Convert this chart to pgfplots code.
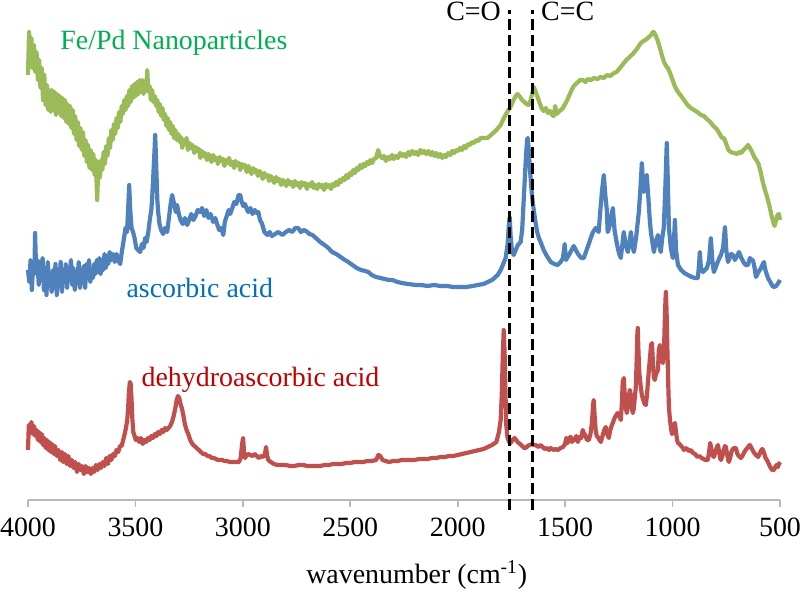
\documentclass[border=0pt]{standalone}
\usepackage{fontspec}
\setmainfont{Liberation Serif}
\usepackage{pgfplots}
\pgfplotsset{compat=1.18}
\definecolor{lgreen}{HTML}{9BBB59}
\definecolor{lblue}{HTML}{4F81BD}
\definecolor{lred}{HTML}{C0504D}
\definecolor{tgreen}{HTML}{00B050}
\definecolor{tblue}{HTML}{0070C0}
\definecolor{tred}{HTML}{C00000}
\newcommand{\fs}{\fontsize{14}{16}\selectfont}
\begin{document}
\begin{tikzpicture}
\begin{axis}[
  at={(0,0)}, anchor=south west,
  scale only axis, width=376bp, height=250bp,
  xmin=500, xmax=4000, ymin=0, ymax=500,
  x dir=reverse,
  axis x line*=bottom, axis y line=none,
  clip=false,
  x axis line style={draw=gray!55, line width=1bp},
  xtick={500,1000,...,4000},
  xtick align=outside,
  major tick length=3.5bp,
  x tick style={draw=gray!55, line width=0.8bp},
  /pgf/number format/1000 sep={},
  /pgf/number format/assume math mode=true,
  xticklabel style={font=\fs, anchor=base, yshift=-14.5bp},
  xlabel={wavenumber (cm\textsuperscript{-1})},
  xlabel style={font=\fs, at={(axis description cs:0.517,-0.168)}, anchor=base},
]
\addplot[lgreen, line width=2.1bp, line join=round] coordinates {
(4000,425)(3995,468)(3990,440)(3984,462)(3978,432)(3972,455)(3966,428)(3960,448)(3954,420)(3948,440)(3942,412)(3936,432)(3930,400)(3924,425)(3918,395)(3912,415)(3906,390)(3900,410)(3894,388)(3888,410)(3882,390)(3876,408)(3870,385)(3864,406)(3858,388)(3852,404)(3846,384)(3840,402)(3834,382)(3828,400)(3822,378)(3816,396)(3810,376)(3804,394)(3798,372)(3792,390)(3786,366)(3780,384)(3774,360)(3768,378)(3762,354)(3756,372)(3750,350)(3744,368)(3738,344)(3732,360)(3726,338)(3720,355)(3714,332)(3708,350)(3702,330)(3696,346)(3690,325)(3684,340)(3678,300)(3672,338)(3666,322)(3660,340)(3654,330)(3648,348)(3642,336)(3636,354)(3630,344)(3624,362)(3618,352)(3612,370)(3606,360)(3600,376)(3594,366)(3588,382)(3582,372)(3576,388)(3570,378)(3564,394)(3558,386)(3552,400)(3546,390)(3540,404)(3534,394)(3528,410)(3522,398)(3516,414)(3510,402)(3504,416)(3498,404)(3492,418)(3486,406)(3480,420)(3474,408)(3468,420)(3462,406)(3456,418)(3450,410)(3445,430)(3440,408)(3434,414)(3428,400)(3422,410)(3416,398)(3410,404)(3404,394)(3398,400)(3392,388)(3386,396)(3380,384)(3374,392)(3368,380)(3362,386)(3356,374)(3350,382)(3344,370)(3338,378)(3332,366)(3326,374)(3320,362)(3314,370)(3308,360)(3300,366)(3294,358)(3288,363)(3282,352)(3276,360)(3268,356)(3262,362)(3256,350)(3248,357)(3240,352)(3234,355)(3226,347)(3218,353)(3212,349)(3204,351)(3198,342)(3190,349)(3182,344)(3176,347)(3168,340)(3160,346)(3152,343)(3146,338)(3138,345)(3130,340)(3122,342)(3116,336)(3108,343)(3100,339)(3092,341)(3086,334)(3078,340)(3070,337)(3064,342)(3056,335)(3048,338)(3040,332)(3034,339)(3026,335)(3018,337)(3012,330)(3004,336)(2996,333)(2990,335)(2982,328)(2974,334)(2966,330)(2960,326)(2952,332)(2944,328)(2938,330)(2930,324)(2922,329)(2914,326)(2908,321)(2900,327)(2892,323)(2884,325)(2878,319)(2870,324)(2862,321)(2854,317)(2846,323)(2838,319)(2830,321)(2822,315)(2814,320)(2806,318)(2798,314)(2790,320)(2782,316)(2774,318)(2766,313)(2758,319)(2750,315)(2742,317)(2734,312)(2726,318)(2718,315)(2710,317)(2702,311)(2694,316)(2686,314)(2678,318)(2670,312)(2662,315)(2654,311)(2646,316)(2638,313)(2630,315)(2622,310)(2614,316)(2606,313)(2598,315)(2590,311)(2582,316)(2574,314)(2566,318)(2558,315)(2550,320)(2542,318)(2534,322)(2526,320)(2518,325)(2510,322)(2502,327)(2494,325)(2486,330)(2478,327)(2470,332)(2462,330)(2454,335)(2446,332)(2438,336)(2430,334)(2422,338)(2414,336)(2406,340)(2398,337)(2390,341)(2380,342)(2370,350)(2362,344)(2352,342)(2344,344)(2334,339)(2326,343)(2316,341)(2306,345)(2298,341)(2288,344)(2278,342)(2268,347)(2258,344)(2250,346)(2240,343)(2230,348)(2222,345)(2212,349)(2202,346)(2194,348)(2184,345)(2174,350)(2164,347)(2156,349)(2146,346)(2136,349)(2126,345)(2118,348)(2108,344)(2100,347)(2090,343)(2082,346)(2072,342)(2062,345)(2054,343)(2044,347)(2034,345)(2026,349)(2016,347)(2008,350)(1998,349)(1990,352)(1980,350)(1970,354)(1962,352)(1952,356)(1942,355)(1934,358)(1924,357)(1914,360)(1904,359)(1894,362)(1880,362)(1861,362)(1840,366)(1820,370)(1800,375)(1785,382)(1770,388)(1754,393)(1740,400)(1730,404)(1721,406)(1710,403)(1700,400)(1690,398)(1680,396)(1670,395)(1660,400)(1650,410)(1646,413)(1640,410)(1630,404)(1620,398)(1610,392)(1600,389)(1590,392)(1580,387)(1570,389)(1560,385)(1553,384)(1546,394)(1540,386)(1530,388)(1520,390)(1510,392)(1500,396)(1490,400)(1480,405)(1470,410)(1460,414)(1450,416)(1440,418)(1430,420)(1418,420)(1405,418)(1395,421)(1380,420)(1365,422)(1350,421)(1335,423)(1320,422)(1305,425)(1290,424)(1273,427)(1260,428)(1245,432)(1230,436)(1215,440)(1200,443)(1185,446)(1170,450)(1160,453)(1148,457)(1135,459)(1120,461)(1110,463)(1100,465)(1092,468)(1087,468)(1080,465)(1070,460)(1060,453)(1050,445)(1040,438)(1030,434)(1022,432)(1010,426)(1000,420)(990,414)(975,408)(960,404)(947,400)(930,395)(915,392)(900,390)(885,388)(868,385)(854,384)(840,381)(825,378)(810,374)(795,371)(780,366)(770,362)(761,362)(750,356)(740,350)(730,348)(714,347)(700,346)(690,348)(680,347)(670,350)(660,352)(649,355)(640,352)(630,348)(620,343)(610,340)(600,336)(590,328)(580,318)(570,310)(560,303)(550,295)(540,285)(530,277)(525,274)(518,280)(512,285)(505,286)(500,280)
};
\addplot[lblue, line width=2.1bp, line join=round] coordinates {
(4000,230)(3994,218)(3988,240)(3982,210)(3976,236)(3970,226)(3967,267)(3962,228)(3956,240)(3950,215)(3944,238)(3938,222)(3932,242)(3926,210)(3920,232)(3914,205)(3908,238)(3902,218)(3896,226)(3890,208)(3884,230)(3878,212)(3872,236)(3866,205)(3860,228)(3854,215)(3848,238)(3842,208)(3836,230)(3830,218)(3824,236)(3818,212)(3812,232)(3806,222)(3800,240)(3794,215)(3788,232)(3782,210)(3776,228)(3770,220)(3764,238)(3758,212)(3752,230)(3746,218)(3740,234)(3734,212)(3728,236)(3722,222)(3716,240)(3710,218)(3704,228)(3698,222)(3692,236)(3686,226)(3680,240)(3674,228)(3668,242)(3662,226)(3656,240)(3650,230)(3644,246)(3638,232)(3632,244)(3626,236)(3620,248)(3612,240)(3604,246)(3596,238)(3588,246)(3580,240)(3571,236)(3562,250)(3553,262)(3546,272)(3539,268)(3534,290)(3529,315)(3524,290)(3518,272)(3511,268)(3504,262)(3496,252)(3488,250)(3478,248)(3470,256)(3462,252)(3455,262)(3448,258)(3440,268)(3432,282)(3426,290)(3422,302)(3416,328)(3411,350)(3408,365)(3404,340)(3398,300)(3394,288)(3388,276)(3380,270)(3371,266)(3362,272)(3352,268)(3344,282)(3336,296)(3329,305)(3320,296)(3312,288)(3306,295)(3298,286)(3290,280)(3280,276)(3270,282)(3259,275)(3250,280)(3240,286)(3230,280)(3220,284)(3210,290)(3198,288)(3190,292)(3180,284)(3170,290)(3160,282)(3150,286)(3138,278)(3128,282)(3120,276)(3110,270)(3100,272)(3091,265)(3084,278)(3075,284)(3066,290)(3059,286)(3049,292)(3040,298)(3030,296)(3020,305)(3012,305)(3005,298)(2998,294)(2990,296)(2980,290)(2975,288)(2965,292)(2955,286)(2945,290)(2935,287)(2928,288)(2920,280)(2910,276)(2900,268)(2886,265)(2875,268)(2865,264)(2850,266)(2835,268)(2816,265)(2800,268)(2785,270)(2770,268)(2756,272)(2742,272)(2730,268)(2715,270)(2700,268)(2690,266)(2676,265)(2660,262)(2640,258)(2620,255)(2602,252)(2585,248)(2565,246)(2545,243)(2525,240)(2509,238)(2490,235)(2470,232)(2450,230)(2430,229)(2416,228)(2400,225)(2380,223)(2360,222)(2340,221)(2320,220)(2304,220)(2280,218)(2260,217)(2230,216)(2196,215)(2170,215)(2140,214)(2110,215)(2080,214)(2050,214)(2020,213)(1990,213)(1960,213)(1930,214)(1907,215)(1880,216)(1860,218)(1840,220)(1814,225)(1800,230)(1790,235)(1777,242)(1768,255)(1762,275)(1758,283)(1754,265)(1748,250)(1740,245)(1730,250)(1720,255)(1707,258)(1700,270)(1694,295)(1688,320)(1682,345)(1677,360)(1674,362)(1670,352)(1664,332)(1658,314)(1652,300)(1646,290)(1638,278)(1630,268)(1622,262)(1614,258)(1600,250)(1585,244)(1567,238)(1550,236)(1535,235)(1521,238)(1510,242)(1502,256)(1496,240)(1488,243)(1475,248)(1460,254)(1450,250)(1440,246)(1425,242)(1413,242)(1400,250)(1390,256)(1381,262)(1370,268)(1358,272)(1350,270)(1344,268)(1336,290)(1328,310)(1320,325)(1313,305)(1306,290)(1302,268)(1295,272)(1288,280)(1278,292)(1270,270)(1264,262)(1255,252)(1248,246)(1241,242)(1234,255)(1227,268)(1218,255)(1208,248)(1200,258)(1194,268)(1187,255)(1180,248)(1170,262)(1162,278)(1157,288)(1150,310)(1143,337)(1138,318)(1134,308)(1127,318)(1120,325)(1112,300)(1106,280)(1101,268)(1094,258)(1087,248)(1078,258)(1068,265)(1062,255)(1055,248)(1048,262)(1041,272)(1034,310)(1027,357)(1022,318)(1017,272)(1008,252)(999,242)(994,258)(989,280)(984,250)(975,235)(960,230)(945,227)(929,225)(910,223)(895,222)(882,222)(877,235)(873,248)(868,232)(859,228)(850,230)(840,232)(830,240)(822,262)(815,240)(808,228)(800,232)(790,238)(782,242)(775,245)(765,252)(756,273)(750,250)(742,238)(735,242)(727,246)(719,245)(710,240)(700,244)(691,248)(680,242)(670,238)(660,235)(649,235)(640,242)(632,240)(626,240)(618,232)(612,223)(600,228)(588,232)(580,236)(575,238)(568,230)(556,222)(545,218)(535,214)(528,213)(518,214)(508,217)(500,220)
};
\addplot[lred, line width=2.1bp, line join=round] coordinates {
(4000,50)(3996,75)(3990,68)(3984,78)(3978,66)(3972,74)(3966,64)(3960,70)(3954,60)(3948,68)(3942,58)(3936,66)(3930,55)(3924,62)(3918,52)(3912,60)(3906,50)(3900,58)(3894,48)(3888,56)(3880,46)(3874,54)(3866,44)(3858,50)(3850,40)(3842,48)(3836,38)(3828,46)(3820,36)(3812,44)(3804,34)(3796,40)(3788,32)(3780,38)(3772,28)(3764,36)(3756,30)(3748,34)(3740,26)(3732,34)(3724,28)(3716,32)(3708,26)(3700,32)(3692,28)(3684,35)(3676,30)(3668,36)(3660,32)(3652,38)(3644,34)(3636,42)(3628,36)(3620,44)(3612,40)(3604,46)(3596,44)(3588,50)(3580,48)(3572,54)(3564,54)(3557,60)(3550,66)(3544,72)(3538,80)(3534,92)(3530,108)(3526,118)(3522,116)(3518,100)(3514,80)(3510,68)(3504,64)(3498,60)(3490,62)(3482,58)(3474,62)(3466,56)(3458,60)(3450,58)(3442,62)(3434,60)(3426,64)(3418,62)(3410,66)(3402,64)(3394,68)(3386,66)(3378,70)(3370,68)(3362,72)(3354,70)(3346,72)(3338,74)(3330,78)(3322,84)(3314,92)(3308,100)(3302,104)(3296,102)(3290,96)(3284,92)(3278,86)(3270,76)(3262,70)(3254,66)(3245,60)(3235,56)(3225,54)(3215,52)(3205,50)(3195,48)(3185,46)(3175,46)(3165,44)(3155,44)(3145,42)(3135,42)(3125,41)(3115,40)(3105,40)(3095,40)(3085,39)(3075,39)(3060,38)(3045,38)(3030,38)(3018,38)(3010,42)(3004,55)(2999,62)(2995,50)(2990,42)(2985,44)(2975,46)(2965,45)(2955,44)(2945,46)(2935,44)(2925,42)(2915,44)(2905,43)(2897,46)(2892,53)(2888,46)(2882,40)(2870,38)(2855,36)(2840,35)(2826,35)(2800,35)(2780,34)(2760,34)(2740,35)(2720,35)(2700,34)(2680,34)(2660,34)(2640,34)(2620,35)(2600,35)(2580,36)(2560,36)(2540,36)(2520,37)(2500,37)(2480,38)(2460,38)(2440,38)(2420,39)(2400,39)(2380,40)(2369,45)(2360,44)(2350,40)(2336,39)(2320,38)(2300,39)(2280,39)(2260,40)(2240,40)(2220,40)(2200,40)(2180,41)(2160,41)(2140,41)(2120,42)(2100,42)(2080,43)(2060,43)(2040,44)(2020,44)(2000,45)(1980,46)(1960,47)(1940,48)(1920,49)(1900,50)(1880,51)(1860,53)(1840,55)(1820,58)(1808,68)(1800,80)(1795,105)(1790,145)(1786,170)(1782,150)(1778,110)(1774,75)(1768,62)(1760,58)(1754,57)(1745,60)(1735,62)(1721,58)(1710,56)(1700,54)(1690,52)(1684,52)(1675,54)(1665,55)(1655,56)(1646,55)(1637,55)(1625,53)(1614,55)(1605,53)(1595,51)(1585,52)(1575,50)(1567,52)(1555,50)(1545,51)(1535,50)(1521,52)(1510,53)(1500,56)(1495,62)(1488,57)(1483,62)(1474,63)(1468,58)(1462,61)(1455,60)(1448,64)(1441,58)(1432,63)(1425,62)(1418,70)(1413,67)(1405,64)(1398,60)(1390,60)(1382,66)(1375,78)(1370,95)(1367,100)(1363,85)(1358,70)(1353,64)(1348,63)(1340,60)(1334,58)(1326,64)(1318,70)(1311,73)(1304,66)(1297,62)(1290,70)(1284,74)(1278,77)(1270,82)(1262,85)(1255,87)(1248,84)(1241,80)(1236,96)(1232,118)(1227,122)(1222,104)(1217,92)(1213,87)(1208,95)(1203,104)(1199,110)(1194,105)(1190,92)(1185,87)(1180,92)(1175,104)(1171,113)(1167,140)(1164,165)(1162,172)(1159,150)(1155,128)(1148,113)(1142,104)(1136,100)(1130,96)(1124,95)(1118,108)(1114,120)(1110,130)(1104,145)(1100,155)(1096,157)(1092,140)(1087,123)(1083,120)(1078,125)(1073,128)(1068,130)(1064,150)(1059,155)(1055,148)(1050,140)(1045,137)(1040,150)(1036,180)(1033,200)(1031,208)(1028,190)(1024,150)(1020,115)(1017,93)(1012,80)(1006,70)(1002,66)(999,67)(994,74)(989,77)(984,68)(979,60)(975,57)(968,56)(960,54)(952,52)(947,50)(940,52)(932,51)(925,49)(915,50)(905,47)(895,46)(888,44)(882,43)(875,44)(865,42)(855,41)(846,40)(836,40)(830,48)(825,57)(820,52)(815,45)(808,43)(802,47)(795,52)(789,55)(783,48)(779,42)(775,40)(768,44)(762,50)(756,54)(752,53)(746,46)(741,40)(738,38)(732,42)(726,48)(720,51)(712,52)(705,52)(698,46)(692,44)(686,43)(682,42)(675,44)(668,47)(660,50)(652,52)(645,54)(640,55)(635,53)(628,50)(620,47)(612,45)(606,44)(602,43)(595,46)(589,49)(583,51)(579,50)(573,46)(567,42)(561,40)(556,38)(550,35)(543,32)(536,30)(528,30)(522,33)(516,35)(510,33)(505,36)(500,38)
};
\addplot[black, line width=1.5bp, dash pattern=on 5.5bp off 2.5bp] coordinates {(1759,-10) (1759,490)};
\addplot[black, line width=1.5bp, dash pattern=on 5.5bp off 2.5bp] coordinates {(1651,-10) (1651,490)};
\node[font=\fs, text=tgreen, anchor=base west, inner sep=0pt] at (axis cs:3851,451) {Fe/Pd Nanoparticles};
\node[font=\fs, text=tblue, anchor=base west, inner sep=0pt] at (axis cs:3543,203) {ascorbic acid};
\node[font=\fs, text=tred, anchor=base west, inner sep=0pt] at (axis cs:3473,114) {dehydroascorbic acid};
\node[font=\fs, anchor=base, inner sep=0pt] at (axis cs:1926,480) {C=O};
\node[font=\fs, anchor=base, inner sep=0pt] at (axis cs:1488,480) {C=C};
\end{axis}
\pgfresetboundingbox
\useasboundingbox (-14bp,-46.5bp) rectangle (386bp,250bp);
\end{tikzpicture}
\end{document}
